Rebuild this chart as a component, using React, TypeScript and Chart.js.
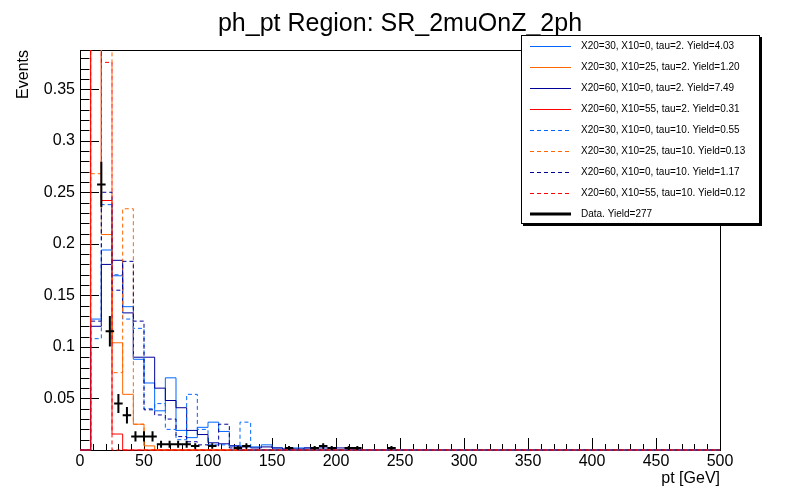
import React, { useEffect, useRef } from "react";
import { Chart, registerables } from "chart.js";

Chart.register(...registerables);

const FONT = "'Liberation Sans', Arial, Helvetica, sans-serif";

// ---- data (normalised histograms, 60 bins over 0-500 GeV) ----
const BIN_WIDTH = 500 / 60;
const X_MIN = 0;
const X_MAX = 500;
const Y_MAX = 0.388;

const blueSolid = [0, 0.127, 0.194, 0.169, 0.139, 0.088, 0.065, 0.038, 0.07, 0.019, 0.012, 0.022, 0.027, 0.018, 0.004, 0.004, 0.003, 0.005, 0.002, 0, 0.002, 0.002];
const orangeSolid = [0, 0.604, 0.209, 0.104, 0.054, 0.025, 0.004];
const navySolid = [0, 0.12, 0.18, 0.184, 0.133, 0.09, 0.09, 0.06, 0.048, 0.041, 0.019, 0.015, 0.007, 0.006, 0.004, 0.003, 0.002, 0.003, 0.002, 0.001, 0.001, 0.002, 0.002, 0.002, 0.002, 0.001];
const redSolid = [0, 0.742, 0.242, 0.0155];
const blueDashed = [0, 0.108, 0.238, 0.17, 0.127, 0.118, 0.04, 0.045, 0.02, 0.01, 0.054, 0.02, 0.005, 0.005, 0, 0.027];
const orangeDashed = [0, 0.268, 0.398, 0.075, 0.234, 0.025];
const navyDashed = [0, 0.125, 0.25, 0.155, 0.183, 0.125, 0.039, 0.034, 0.03, 0.013, 0.008, 0.005, 0.004, 0.025, 0.002];
const redDashed = [0, 0.624, 0.376, 0];

const seriesLabels = [
  "X20=30, X10=0, tau=2. Yield=4.03",
  "X20=30, X10=25, tau=2. Yield=1.20",
  "X20=60, X10=0, tau=2. Yield=7.49",
  "X20=60, X10=55, tau=2. Yield=0.31",
  "X20=30, X10=0, tau=10. Yield=0.55",
  "X20=30, X10=25, tau=10. Yield=0.13",
  "X20=60, X10=0, tau=10. Yield=1.17",
  "X20=60, X10=55, tau=10. Yield=0.12",
];
const dataLabel = "Data. Yield=277";

// data points: bin centres (6.67 GeV bins), values, vertical errors
const DATA_HALF_WIDTH = 10 / 3;
const dataCenters = [16.67, 23.33, 30, 36.67, 43.33, 50, 56.67, 63.33, 70, 76.67, 83.33, 90, 103.33, 123.33, 130, 163.33, 183.33, 190, 196.67, 210, 216.67, 243.33];
const dataValues = [0.2576, 0.1152, 0.0451, 0.0338, 0.0132, 0.0132, 0.0132, 0.0056, 0.0056, 0.0056, 0.0056, 0.0038, 0.0038, 0.0019, 0.0038, 0.0019, 0.0019, 0.0038, 0.0019, 0.0019, 0.0019, 0.0019];
const dataErrors = [0.0221, 0.0148, 0.0092, 0.008, 0.005, 0.005, 0.005, 0.0033, 0.0033, 0.0033, 0.0033, 0.0027, 0.0027, 0.0019, 0.0027, 0.0019, 0.0019, 0.0027, 0.0019, 0.0019, 0.0019, 0.0019];

const xTickValues = [0, 50, 100, 150, 200, 250, 300, 350, 400, 450, 500];
const yTickValues = [0.05, 0.1, 0.15, 0.2, 0.25, 0.3, 0.35];

const title = "ph_pt Region: SR_2muOnZ_2ph";
const xTitle = "pt [GeV]";
const yTitle = "Events";

const BLUE = "#0066ff";
const ORANGE = "#ff6600";
const NAVY = "#000099";
const RED = "#ff0000";
const DASH = [4, 3];

const seriesValues = [blueSolid, orangeSolid, navySolid, redSolid, blueDashed, orangeDashed, navyDashed, redDashed];
const seriesColors = [BLUE, ORANGE, NAVY, RED, BLUE, ORANGE, NAVY, RED];
const seriesDashed = [false, false, false, false, true, true, true, true];

function histPoints(values: number[]) {
  const pts = values.map((v, i) => ({ x: i * BIN_WIDTH, y: v }));
  pts.push({ x: values.length * BIN_WIDTH, y: 0 });
  pts.push({ x: X_MAX, y: 0 });
  return pts;
}

const rootPlugin = {
  id: "rootStyle",
  beforeDatasetsDraw(chart: any) {
    const { ctx, chartArea } = chart;
    const xs = chart.scales.x;
    const ys = chart.scales.y;
    const L = Math.round(chartArea.left);
    const R = Math.round(chartArea.right);
    const T = Math.round(chartArea.top);
    const B = Math.round(chartArea.bottom);
    ctx.save();
    ctx.strokeStyle = "#000";
    ctx.lineWidth = 1;
    ctx.setLineDash([]);
    ctx.strokeRect(L + 0.5, T + 0.5, R - L, B - T);
    ctx.beginPath();
    // x ticks: every 10 GeV, major every 50
    for (let v = X_MIN; v <= X_MAX + 1e-9; v += 10) {
      const px = Math.round(xs.getPixelForValue(v)) + 0.5;
      const len = Math.abs(v % 50) < 1e-6 ? 12 : 6;
      ctx.moveTo(px, B);
      ctx.lineTo(px, B - len);
    }
    // y ticks: every 0.01, major every 0.05
    for (let k = 0; k * 0.01 <= Y_MAX + 1e-9; k++) {
      const py = Math.round(ys.getPixelForValue(k * 0.01)) + 0.5;
      const len = k % 5 === 0 ? 19 : 9.5;
      ctx.moveTo(L, py);
      ctx.lineTo(L + len, py);
    }
    ctx.stroke();
    ctx.restore();
  },
  afterDatasetsDraw(chart: any) {
    const { ctx, chartArea } = chart;
    const xs = chart.scales.x;
    const ys = chart.scales.y;
    ctx.save();
    ctx.beginPath();
    ctx.rect(chartArea.left, chartArea.top, chartArea.right - chartArea.left, chartArea.bottom - chartArea.top + 1);
    ctx.clip();
    ctx.strokeStyle = "#000";
    ctx.lineWidth = 2;
    ctx.setLineDash([]);
    ctx.beginPath();
    dataCenters.forEach((c, i) => {
      const v = dataValues[i];
      const e = dataErrors[i];
      const px = xs.getPixelForValue(c);
      const py = ys.getPixelForValue(v);
      ctx.moveTo(xs.getPixelForValue(c - DATA_HALF_WIDTH), py);
      ctx.lineTo(xs.getPixelForValue(c + DATA_HALF_WIDTH), py);
      ctx.moveTo(px, ys.getPixelForValue(v + e));
      ctx.lineTo(px, ys.getPixelForValue(Math.max(v - e, 0)));
    });
    ctx.stroke();
    ctx.restore();
  },
  afterDraw(chart: any) {
    const { ctx, chartArea } = chart;
    ctx.save();
    ctx.fillStyle = "#000";
    // title
    ctx.font = `25px ${FONT}`;
    ctx.textAlign = "center";
    ctx.textBaseline = "alphabetic";
    ctx.fillText(title, 400, 31);
    // x title
    ctx.font = `16px ${FONT}`;
    ctx.textAlign = "right";
    ctx.fillText(xTitle, chartArea.right, 483);
    // y title
    ctx.save();
    ctx.translate(28, chartArea.top);
    ctx.rotate(-Math.PI / 2);
    ctx.textAlign = "right";
    ctx.fillText(yTitle, 0, 0);
    ctx.restore();

    // legend
    const lx = 521, ly = 35, lw = 239, lh = 189;
    ctx.fillStyle = "#fff";
    ctx.fillRect(lx, ly, lw, lh);
    ctx.fillStyle = "#000";
    ctx.fillRect(lx + lw, ly + 2, 2, lh);
    ctx.fillRect(lx + 2, ly + lh, lw, 2);
    ctx.strokeStyle = "#000";
    ctx.lineWidth = 1;
    ctx.strokeRect(lx + 0.5, ly + 0.5, lw - 1, lh - 1);
    ctx.font = `10px ${FONT}`;
    ctx.textAlign = "left";
    ctx.textBaseline = "middle";
    const rowY = (k: number) => 45.7 + k * 21.04;
    seriesLabels.forEach((lab, k) => {
      const y = Math.round(rowY(k)) + 0.5;
      ctx.strokeStyle = seriesColors[k];
      ctx.lineWidth = 1;
      ctx.setLineDash(seriesDashed[k] ? DASH : []);
      ctx.beginPath();
      ctx.moveTo(530, y);
      ctx.lineTo(571, y);
      ctx.stroke();
      ctx.fillStyle = "#000";
      ctx.fillText(lab, 581, rowY(k) + 0.5);
    });
    const dy = Math.round(rowY(8));
    ctx.setLineDash([]);
    ctx.strokeStyle = "#000";
    ctx.lineWidth = 3;
    ctx.beginPath();
    ctx.moveTo(530, dy);
    ctx.lineTo(571, dy);
    ctx.stroke();
    ctx.fillText(dataLabel, 581, rowY(8) + 0.5);
    ctx.restore();
  },
};

export default function App() {
  const ref = useRef<HTMLCanvasElement | null>(null);
  useEffect(() => {
    if (!ref.current) return;
    const datasets: any[] = seriesValues.map((vals, i) => ({
      label: seriesLabels[i],
      data: histPoints(vals),
      borderColor: seriesColors[i],
      backgroundColor: "transparent",
      borderWidth: 1,
      borderDash: seriesDashed[i] ? DASH : [],
      stepped: "before",
      pointRadius: 0,
      fill: false,
      order: seriesValues.length - i,
      clip: { left: 1, top: 0, right: 1, bottom: 1 },
    }));
    const chart = new Chart(ref.current, {
      type: "line",
      data: { datasets },
      options: {
        animation: false,
        responsive: false,
        maintainAspectRatio: false,
        devicePixelRatio: 1,
        layout: { padding: { top: 50, right: 80, bottom: 0, left: 0 } },
        plugins: {
          legend: { display: false },
          tooltip: { enabled: false },
          title: { display: false },
        },
        elements: { point: { radius: 0 } },
        scales: {
          x: {
            type: "linear",
            min: X_MIN,
            max: X_MAX,
            afterFit: (s: any) => {
              s.height = 50;
            },
            afterBuildTicks: (s: any) => {
              s.ticks = xTickValues.map((v) => ({ value: v }));
            },
            grid: { display: false, drawTicks: false },
            border: { display: false },
            ticks: {
              color: "#000",
              font: { family: FONT, size: 16 },
              padding: 2,
              maxRotation: 0,
              autoSkip: false,
              includeBounds: false,
              callback: (v: any) => String(v),
            },
          },
          y: {
            type: "linear",
            min: 0,
            max: Y_MAX,
            afterFit: (s: any) => {
              s.width = 80;
            },
            afterBuildTicks: (s: any) => {
              s.ticks = yTickValues.map((v) => ({ value: v }));
            },
            grid: { display: false, drawTicks: false },
            border: { display: false },
            ticks: {
              color: "#000",
              font: { family: FONT, size: 16 },
              padding: 5,
              autoSkip: false,
              includeBounds: false,
              callback: (v: any) => String(Number(Number(v).toFixed(2))),
            },
          },
        },
      } as any,
      plugins: [rootPlugin],
    });
    return () => chart.destroy();
  }, []);
  return (
    <div style={{ position: "fixed", left: 0, top: 0, width: 800, height: 500, background: "#fff" }}>
      <canvas ref={ref} width={800} height={500} style={{ width: 800, height: 500, display: "block" }} />
    </div>
  );
}
